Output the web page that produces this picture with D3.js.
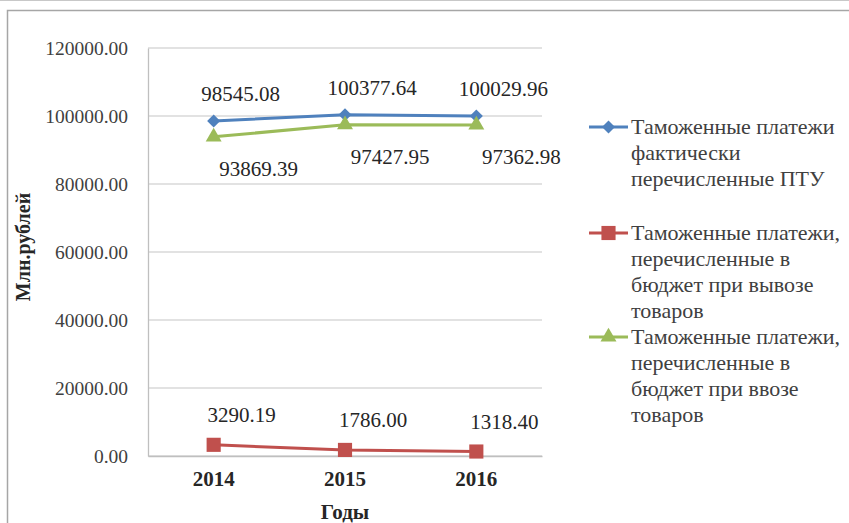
<!DOCTYPE html>
<html>
<head>
<meta charset="utf-8">
<script src="https://cdn.jsdelivr.net/npm/d3@7"></script>
<style>
  body { margin: 0; background: #fff; }
</style>
</head>
<body>
<svg id="chart" width="849" height="523" font-family="Liberation Serif"></svg>
<script>
const years = ['2014', '2015', '2016']
const yTicks = [0, 20000, 40000, 60000, 80000, 100000, 120000]

const ptuValues = [98545.08, 100377.64, 100029.96]
const exportValues = [3290.19, 1786.00, 1318.40]
const importValues = [93869.39, 97427.95, 97362.98]

const seriesNames = [
  ['Таможенные платежи', 'фактически', 'перечисленные ПТУ'],
  ['Таможенные платежи,', 'перечисленные в', 'бюджет при вывозе', 'товаров'],
  ['Таможенные платежи,', 'перечисленные в', 'бюджет при ввозе', 'товаров']
]

const FONT = 'Liberation Serif'
const svg = d3.select('#chart')
const margin = { left: 148, right: 542, top: 48, bottom: 456 }

// page edge + chart frame
svg.append('line')
  .attr('x1', 0).attr('x2', 849)
  .attr('y1', 0.5).attr('y2', 0.5)
  .attr('stroke', '#c8c8c8')
svg.append('rect')
  .attr('x', 7.5).attr('y', 10.5)
  .attr('width', 900).attr('height', 600)
  .attr('fill', 'none')
  .attr('stroke', '#a6a6a6')
  .attr('stroke-width', 1.5)

const x = d3.scaleBand()
  .domain(years)
  .range([margin.left, margin.right])

const y = d3.scaleLinear()
  .domain([0, 120000])
  .range([margin.bottom, margin.top])

const cx = year => x(year) + x.bandwidth() / 2

// grid
svg.append('g')
  .selectAll('line')
  .data(yTicks)
  .enter().append('line')
  .attr('x1', margin.left)
  .attr('x2', margin.right)
  .attr('y1', d => y(d))
  .attr('y2', d => y(d))
  .attr('stroke', '#d9d9d9')
  .attr('stroke-width', 1.3)

// axes
const yAxis = svg.append('g')
  .attr('transform', `translate(${margin.left},0)`)
  .call(d3.axisLeft(y).tickValues(yTicks).tickFormat(d3.format('.2f')).tickSize(0).tickPadding(20))
yAxis.attr('font-family', FONT)
yAxis.select('.domain').attr('stroke', '#bfbfbf').attr('stroke-width', 1.3)
yAxis.selectAll('text')
  .attr('font-size', 19.5)
  .attr('font-family', FONT)
  .attr('fill', '#404040')

const xAxis = svg.append('g')
  .attr('transform', `translate(0,${margin.bottom})`)
  .call(d3.axisBottom(x).tickSize(0).tickPadding(15))
xAxis.attr('font-family', FONT)
xAxis.select('.domain').attr('stroke', '#bfbfbf').attr('stroke-width', 1.3)
xAxis.selectAll('text')
  .attr('font-size', 21)
  .attr('font-weight', 'bold')
  .attr('font-family', FONT)
  .attr('fill', '#262626')

// axis titles
svg.append('text')
  .attr('x', 345).attr('y', 519)
  .attr('text-anchor', 'middle')
  .attr('font-family', FONT)
  .attr('font-size', 21)
  .attr('font-weight', 'bold')
  .attr('fill', '#262626')
  .text('Годы')

svg.append('text')
  .attr('transform', 'translate(30,247) rotate(-90)')
  .attr('text-anchor', 'middle')
  .attr('font-family', FONT)
  .attr('font-size', 20)
  .attr('font-weight', 'bold')
  .attr('fill', '#262626')
  .text('Млн.рублей')

const series = [
  { values: ptuValues, color: '#4F81BD', marker: d3.symbolSquare, rot: 45, size: 85, dx: 27, dy: -27 },
  { values: exportValues, color: '#C0504D', marker: d3.symbolSquare, rot: 0, size: 200, dx: 28, dy: -30 },
  { values: importValues, color: '#9BBB59', marker: d3.symbolTriangle, rot: 0, size: 110, dx: 45, dy: 32 }
]

const line = d3.line()
  .x((d, i) => cx(years[i]))
  .y(d => y(d))

series.forEach(s => {
  const g = svg.append('g')
  g.append('path')
    .datum(s.values)
    .attr('d', line)
    .attr('fill', 'none')
    .attr('stroke', s.color)
    .attr('stroke-width', 3)

  g.selectAll('path.m')
    .data(s.values)
    .enter().append('path')
    .attr('class', 'm')
    .attr('d', d3.symbol().type(s.marker).size(s.size))
    .attr('transform', (d, i) => `translate(${cx(years[i])},${y(d)}) rotate(${s.rot})`)
    .attr('fill', s.color)

  g.selectAll('text')
    .data(s.values)
    .enter().append('text')
    .attr('x', (d, i) => cx(years[i]) + s.dx)
    .attr('y', d => y(d) + s.dy + 7)
    .attr('text-anchor', 'middle')
    .attr('font-family', FONT)
    .attr('font-size', 21)
    .attr('fill', '#262626')
    .text(d => d3.format('.2f')(d))
})

// legend
const legendTops = [127, 233, 337]
series.forEach((s, i) => {
  const lg = svg.append('g').attr('transform', `translate(589,${legendTops[i]})`)
  lg.append('line')
    .attr('x1', 0).attr('x2', 39)
    .attr('stroke', s.color)
    .attr('stroke-width', 3)
  lg.append('path')
    .attr('d', d3.symbol().type(s.marker).size(s.size))
    .attr('transform', `translate(19.5,0) rotate(${s.rot})`)
    .attr('fill', s.color)
  lg.selectAll('text')
    .data(seriesNames[i])
    .enter().append('text')
    .attr('x', 42)
    .attr('y', (d, j) => j * 26 + 7)
    .attr('font-family', FONT)
    .attr('font-size', 22)
    .attr('fill', '#404040')
    .text(d => d)
})
</script>
</body>
</html>
